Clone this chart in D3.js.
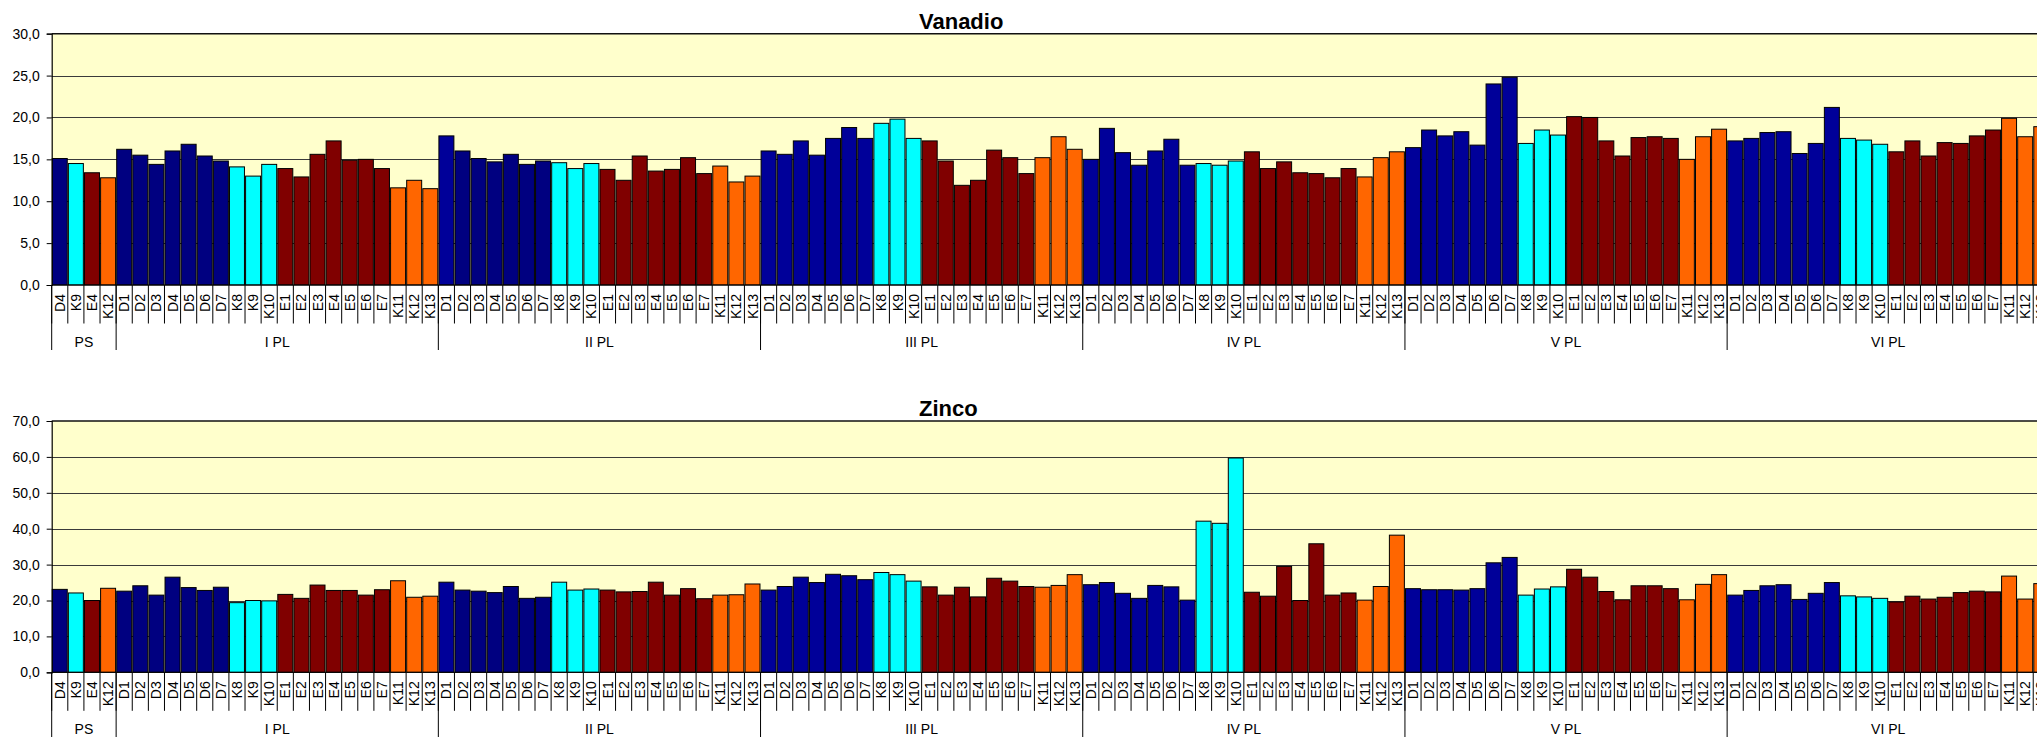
<!DOCTYPE html>
<html>
<head>
<meta charset="utf-8">
<script src="https://cdn.jsdelivr.net/npm/d3@7/dist/d3.min.js"></script>
<style>
  html, body { margin: 0; padding: 0; background: #fff; overflow: hidden; }
  svg { display: block; font-family: Arial, "Liberation Sans", sans-serif; }
</style>
</head>
<body>
<svg id="chart" width="2060" height="737"></svg>
<script>
// Sampling campaigns and the points measured in each of them
const groups = ["PS", "I PL", "II PL", "III PL", "IV PL", "V PL", "VI PL"];
const psPoints = ["D4", "K9", "E4", "K12"];
const plPoints = ["D1", "D2", "D3", "D4", "D5", "D6", "D7", "K8", "K9", "K10",
                  "E1", "E2", "E3", "E4", "E5", "E6", "E7", "K11", "K12", "K13"];

// Vanadio concentrations, one row per campaign
const vanadio = [
  15.1, 14.5, 13.4, 12.8,
  16.2, 15.5, 14.4, 16.0, 16.8, 15.4, 14.8, 14.1, 13.0, 14.4, 13.9, 12.9, 15.6, 17.2, 14.9, 15.0, 13.9, 11.6, 12.5, 11.5,
  17.8, 16.0, 15.1, 14.7, 15.6, 14.4, 14.8, 14.6, 13.9, 14.5, 13.8, 12.5, 15.4, 13.6, 13.8, 15.2, 13.3, 14.2, 12.3, 13.0,
  16.0, 15.6, 17.2, 15.5, 17.5, 18.8, 17.5, 19.3, 19.8, 17.5, 17.2, 14.8, 11.9, 12.5, 16.1, 15.2, 13.3, 15.2, 17.7, 16.2,
  15.0, 18.7, 15.8, 14.3, 16.0, 17.4, 14.3, 14.5, 14.3, 14.8, 15.9, 13.9, 14.7, 13.4, 13.3, 12.8, 13.9, 12.9, 15.2, 15.9,
  16.4, 18.5, 17.8, 18.3, 16.7, 24.0, 24.8, 16.9, 18.5, 17.9, 20.1, 20.0, 17.2, 15.4, 17.6, 17.7, 17.5, 15.0, 17.7, 18.6,
  17.2, 17.5, 18.2, 18.3, 15.7, 16.9, 21.2, 17.5, 17.3, 16.8, 15.9, 17.2, 15.4, 17.0, 16.9, 17.8, 18.5, 19.9, 17.7, 18.9
];

// Zinco concentrations, one row per campaign
const zinco = [
  23.1, 22.1, 20.0, 23.4,
  22.6, 24.1, 21.5, 26.5, 23.6, 22.8, 23.7, 19.4, 20.0, 19.9, 21.7, 20.6, 24.3, 22.8, 22.8, 21.5, 23.0, 25.5, 20.9, 21.2,
  25.1, 22.9, 22.6, 22.2, 23.9, 20.6, 20.9, 25.1, 22.9, 23.2, 22.9, 22.4, 22.5, 25.1, 21.5, 23.3, 20.5, 21.5, 21.6, 24.6,
  22.9, 23.9, 26.5, 25.0, 27.3, 26.9, 25.8, 27.8, 27.2, 25.4, 23.8, 21.5, 23.7, 21.0, 26.2, 25.4, 23.9, 23.7, 24.2, 27.2,
  24.4, 25.0, 22.0, 20.6, 24.2, 23.8, 20.1, 42.1, 41.5, 59.7, 22.3, 21.2, 29.5, 20.0, 35.8, 21.5, 22.1, 20.1, 23.9, 38.2,
  23.3, 23.0, 23.0, 22.9, 23.3, 30.5, 32.0, 21.5, 23.2, 23.8, 28.7, 26.5, 22.5, 20.2, 24.1, 24.1, 23.3, 20.2, 24.5, 27.2,
  21.5, 22.8, 24.1, 24.4, 20.3, 22.0, 25.0, 21.3, 21.0, 20.6, 19.6, 21.2, 20.4, 20.9, 22.2, 22.6, 22.4, 26.8, 20.4, 24.7
];

const yTicksVanadio = [0, 5, 10, 15, 20, 25, 30];
const yTicksZinco = [0, 10, 20, 30, 40, 50, 60, 70];

// Flat list of bars: campaign + point
const bars = [];
groups.forEach(g => (g === "PS" ? psPoints : plPoints).forEach(p => bars.push({ group: g, point: p })));

// Campaign spans along the category axis
const spans = [];
{
  let start = 0;
  groups.forEach(g => {
    const n = g === "PS" ? psPoints.length : plPoints.length;
    spans.push({ group: g, start, end: start + n });
    start += n;
  });
}

const fmt = d3.formatLocale({ decimal: ",", thousands: ".", grouping: [3], currency: ["", "€"] }).format(".1f");

function barColor(b) {
  const num = +b.point.slice(1);
  if (b.point[0] === "D") {
    const darker = b.group === "PS" || b.group === "I PL" || (b.group === "II PL" && b.point !== "D1");
    return darker ? "#000080" : "#000099";
  }
  if (b.point[0] === "E") return "#800000";
  return num >= 11 ? "#FF6600" : "#00FFFF";
}

const svg = d3.select("#chart");
const step = 16.11;
const x0 = 51.7;
const x = d3.scaleBand()
  .domain(d3.range(bars.length))
  .range([x0, x0 + bars.length * step])
  .paddingInner(0.07)
  .paddingOuter(0.035);

const panels = [
  { title: "Vanadio", values: vanadio, ticks: yTicksVanadio, top: 33.7, bottom: 285, titleY: 29 },
  { title: "Zinco", values: zinco, ticks: yTicksZinco, top: 421, bottom: 672.3, titleY: 415.5 }
];

panels.forEach(pn => {
  const g = svg.append("g");
  const yMax = pn.ticks[pn.ticks.length - 1];
  const y = d3.scaleLinear().domain([0, yMax]).range([pn.bottom, pn.top]);
  const xEnd = x0 + bars.length * step;

  // plot background
  g.append("rect")
    .attr("x", x0).attr("y", pn.top)
    .attr("width", xEnd - x0).attr("height", pn.bottom - pn.top)
    .attr("fill", "#FFFFCC");

  // gridlines
  g.selectAll(".grid").data(pn.ticks.slice(1, -1)).join("line")
    .attr("x1", x0).attr("x2", xEnd)
    .attr("y1", d => Math.round(y(d)) + 0.5).attr("y2", d => Math.round(y(d)) + 0.5)
    .attr("stroke", "#3a3a3a").attr("stroke-width", 1);

  // top border
  g.append("line")
    .attr("x1", x0).attr("x2", xEnd)
    .attr("y1", pn.top).attr("y2", pn.top)
    .attr("stroke", "#111").attr("stroke-width", 1.6);

  // bars
  g.selectAll(".bar").data(bars).join("rect")
    .attr("x", (d, i) => x(i))
    .attr("width", x.bandwidth())
    .attr("y", (d, i) => y(pn.values[i]))
    .attr("height", (d, i) => y(0) - y(pn.values[i]))
    .attr("fill", d => barColor(d))
    .attr("stroke", "#000").attr("stroke-width", 1);

  // y axis
  const yAxis = d3.axisLeft(y).tickValues(pn.ticks).tickFormat(fmt).tickSize(5).tickPadding(7);
  const ya = g.append("g").attr("transform", `translate(${x0},0)`).call(yAxis);
  ya.select(".domain").attr("stroke", "#000").attr("stroke-width", 1.2);
  ya.selectAll(".tick line").attr("stroke", "#000");
  ya.selectAll(".tick text").attr("font-size", 14).attr("fill", "#000")
    .attr("font-family", "Arial, 'Liberation Sans', sans-serif");

  // baseline
  g.append("line")
    .attr("x1", x0).attr("x2", xEnd)
    .attr("y1", pn.bottom).attr("y2", pn.bottom)
    .attr("stroke", "#000").attr("stroke-width", 1);

  // point separators
  g.selectAll(".sep").data(d3.range(bars.length + 1)).join("line")
    .attr("x1", i => x0 + i * step).attr("x2", i => x0 + i * step)
    .attr("y1", pn.bottom).attr("y2", pn.bottom + 38.5)
    .attr("stroke", "#000").attr("stroke-width", 1);

  // point labels
  g.selectAll(".lab").data(bars).join("text")
    .attr("transform", (d, i) => `translate(${x(i) + x.bandwidth() / 2},${pn.bottom + 9}) rotate(-90)`)
    .attr("text-anchor", "end")
    .attr("dy", "0.36em")
    .attr("font-size", 14)
    .attr("fill", "#000")
    .text(d => d.point);

  // campaign separators
  g.selectAll(".gsep").data(spans.map(s => s.start).concat([bars.length])).join("line")
    .attr("x1", i => x0 + i * step).attr("x2", i => x0 + i * step)
    .attr("y1", pn.bottom).attr("y2", pn.bottom + 65)
    .attr("stroke", "#000").attr("stroke-width", 1);

  // campaign labels
  g.selectAll(".glab").data(spans).join("text")
    .attr("x", s => x0 + (s.start + s.end) / 2 * step)
    .attr("y", pn.bottom + 61.5)
    .attr("text-anchor", "middle")
    .attr("font-size", 14)
    .attr("fill", "#000")
    .text(s => s.group);

  // title
  g.append("text")
    .attr("x", 919).attr("y", pn.titleY)
    .attr("font-size", 22).attr("font-weight", "bold")
    .attr("fill", "#000")
    .text(pn.title);
});
</script>
</body>
</html>
